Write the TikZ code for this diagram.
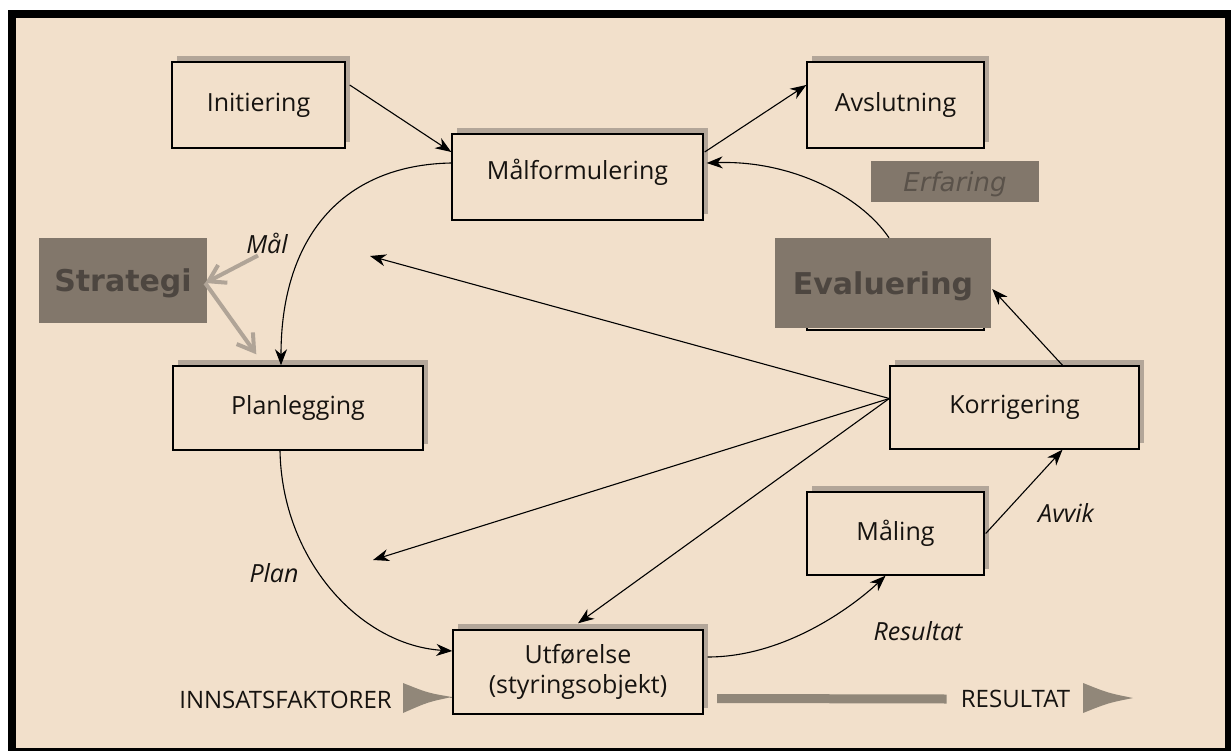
\documentclass[tikz,border=0pt]{standalone}
\usepackage{fontspec}
\setmainfont{Open Sans}
\newfontfamily\dejavu{DejaVu Sans}
\usetikzlibrary{arrows.meta,calc,shadows}
\definecolor{bg}{HTML}{F2E0CB}
\definecolor{shadowc}{HTML}{B3A699}
\definecolor{grayc}{HTML}{82776B}
\definecolor{graytxt}{HTML}{4D4640}
\definecolor{erftxt}{HTML}{5A524A}
\definecolor{txt}{HTML}{161310}
\definecolor{garrc}{HTML}{B0A497}
\definecolor{barc}{HTML}{918779}
\tikzset{
 box/.style={draw=black, line width=1.4pt, fill=bg, inner sep=0pt, text=txt,
   font=\fontsize{25}{30}\selectfont,
   general shadow={fill=shadowc, shadow xshift=5pt, shadow yshift=6pt}},
 graybox/.style={fill=grayc, inner sep=0pt, text=graytxt, text depth=0pt, font=\dejavu\bfseries\fontsize{30}{36}\selectfont},
 lbl/.style={inner sep=0pt, text=txt, font=\itshape\fontsize{25}{30}\selectfont},
 caps/.style={inner sep=0pt, text=txt, font=\fontsize{24}{30}\selectfont},
 arr/.style={line width=1.1pt, -{Stealth[length=16pt,width=12pt,inset=5pt]}},
 garr/.style={draw=garrc, line width=4pt, -{Straight Barb[length=16pt,width=20pt]}},
}
\begin{document}
\begin{tikzpicture}[x=1pt,y=-1pt]
\useasboundingbox (0,0) rectangle (1231,751);
\fill[white] (0,0) rectangle (1231,751);
\fill[black] (8,10) rectangle (1231,751);
\fill[bg] (16,18) rectangle (1225,748);

% boxes
\node[box, minimum width=173pt, minimum height=86pt] (ini) at (258.5,105) {Initiering};
\node[box, minimum width=251pt, minimum height=86pt] (mal) at (577.5,177) {\raisebox{5pt}[\height][\depth]{Målformulering}};
\node[box, minimum width=177pt, minimum height=86pt] (avs) at (895.5,105) {Avslutning};
\node[box, minimum width=250pt, minimum height=84pt] (plan) at (298,408) {Planlegging};
\node[box, minimum width=249pt, minimum height=83pt] (kor) at (1014.5,407.5) {Korrigering};
\node[box, minimum width=177pt, minimum height=83pt] (maa) at (895.5,533.5) {Måling};
\node[box, minimum width=250pt, minimum height=84pt, align=center] (utf) at (578,672) {Utførelse\\(styringsobjekt)};
\node[box, minimum width=177pt, minimum height=86pt] (evb) at (895.5,287) {};

% gray boxes
\node[graybox, minimum width=216pt, minimum height=90pt] (ev) at (883,283) {Evaluering};
\node[graybox, minimum width=168pt, minimum height=85pt] (strat) at (123,280.5) {Strategi};
\node[fill=grayc, inner sep=0pt, minimum width=168pt, minimum height=41pt, text=erftxt, text depth=0pt,
  font=\dejavu\itshape\fontsize{26}{30}\selectfont] (erf) at (955,181.5) {Erfaring};

% labels
\node[lbl] (ml) at (267,243) {Mål};
\node[lbl] (pl) at (274,573) {Plan};
\node[lbl] (av) at (1066,513) {Avvik};
\node[lbl] (rs) at (918,631) {Resultat};
\node[caps] (inn) at (285.5,700) {INNSATSFAKTORER};
\node[caps] (res) at (1015.5,699) {RESULTAT};

% free ends
\coordinate (f1) at (370,256);
\coordinate (f2) at (373,560);

% connectors
\draw[arr] ([shift={(4,-20)}]ini.east) -- ([shift={(0,-25)}]mal.west);
\draw[arr] ([shift={(1,-25)}]mal.east) -- ([shift={(0,-20)}]avs.west);
\draw[arr] ([shift={(6,0)}]ev.north) .. controls (860,195) and (790,160) .. ([shift={(3,-14)}]mal.east);
\draw[arr] ([shift={(0,-14)}]mal.west) .. controls (340,165) and (281,240) .. ([shift={(-17,0)}]plan.north);
\draw[arr] ([shift={(-18,0)}]plan.south) .. controls (282,560) and (360,645) .. ([shift={(0,-21)}]utf.west);
\draw[arr] ([shift={(4,-15)}]utf.east) .. controls (790,657) and (860,600) .. ([shift={(-10,0)}]maa.south);
\draw[arr] ([shift={(1,0)}]maa.east) -- ([shift={(48,0)}]kor.south);
\draw[arr] ([shift={(48,0)}]kor.north) -- ([shift={(1,6)}]ev.east);
\draw[arr] ([shift={(0,-9)}]kor.west) -- (f1);
\draw[arr] ([shift={(0,-9)}]kor.west) -- (f2);
\draw[arr] ([shift={(0,-9)}]kor.west) -- ([shift={(0,-6)}]utf.north);

% gray strategy arrows
\draw[garr] ([shift={(-9,2)}]ml.south) -- ([shift={(-2,2.5)}]strat.east);
\draw[garr] ([shift={(-2,2.5)}]strat.east) -- ([shift={(84,-11)}]plan.north west);

% bottom flow
\fill[barc] (403,683) .. controls (428,693) .. (452,697) .. controls (428,702) .. (403,713) -- cycle;
\draw[barc, line width=1pt] (450,697) -- (utf.west |- 0,697);
\draw[barc, line width=9pt] (717,698.5) -- ([xshift=-14pt]res.west);
\fill[barc] (1083,683) .. controls (1108,693) .. (1133,698) .. controls (1108,703) .. (1083,713) -- cycle;
\end{tikzpicture}
\end{document}
